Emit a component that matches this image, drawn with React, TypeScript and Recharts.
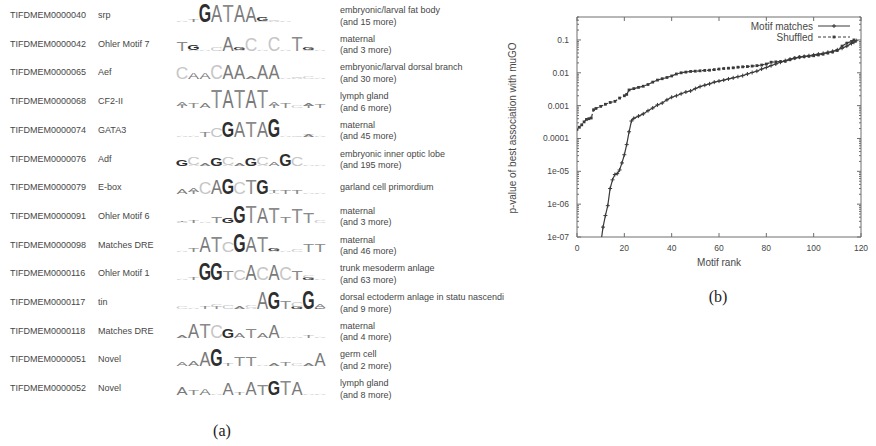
import React from "react";
import {
  BarChart,
  Bar,
  XAxis,
  YAxis,
  LineChart,
  Line,
  ReferenceArea,
} from "recharts";

// ---- panel (a): motif table ----
const MOTIF_IDS = [
  "TIFDMEM0000040", "TIFDMEM0000042", "TIFDMEM0000065", "TIFDMEM0000068",
  "TIFDMEM0000074", "TIFDMEM0000076", "TIFDMEM0000079", "TIFDMEM0000091",
  "TIFDMEM0000098", "TIFDMEM0000116", "TIFDMEM0000117", "TIFDMEM0000118",
  "TIFDMEM0000051", "TIFDMEM0000052",
];

const MOTIF_NAMES = [
  "srp", "Ohler Motif 7", "Aef", "CF2-II", "GATA3", "Adf", "E-box",
  "Ohler Motif 6", "Matches DRE", "Ohler Motif 1", "tin", "Matches DRE",
  "Novel", "Novel",
];

const GO_TERMS = [
  "embryonic/larval fat body", "maternal", "embryonic/larval dorsal branch",
  "lymph gland", "maternal", "embryonic inner optic lobe",
  "garland cell primordium", "maternal", "maternal", "trunk mesoderm anlage",
  "dorsal ectoderm anlage in statu nascendi", "maternal", "germ cell",
  "lymph gland",
];

const MORE_COUNTS: (number | null)[] = [15, 3, 30, 6, 45, 195, null, 3, 46, 63, 9, 4, 2, 8];

// one entry per logo column: letters bottom-to-top with height in bits
const LOGOS: string[][] = [
  ["A0.1", "T0.25", "G1.8", "A1.7", "T1.7", "A1.7", "A1.55", "C0.15/G0.35", "A0.1/C0.1", "A0.05", "A0.04", "A0.04", "A0.04"],
  ["T0.9", "A0.1/G0.55", "A0.12", "C0.45", "A1.45", "A0.1/G0.25", "C1.35", "A0.1", "C1.4", "A0.1", "T1.5", "C0.15/G0.3", "A0.12"],
  ["C1.2", "A0.7", "A0.7", "C1.4", "A1.45", "A1.45", "A0.2", "A1.45", "A1.45", "A0.15", "A0.1/C0.1", "C0.25", "A0.06"],
  ["T0.25/A0.4", "T0.55", "A0.55", "T1.8", "A1.8", "T1.8", "A1.8", "T1.8", "T0.25/A0.35", "T0.5", "C0.3", "T0.2/A0.2", "T0.45"],
  ["A0.1", "A0.1", "T0.5", "C0.9", "G1.55", "A1.6", "T1.6", "A1.6", "G1.85", "A0.15", "C0.15", "A0.2/T0.1", "A0.1"],
  ["G0.6", "A0.12/C0.8", "A0.3", "G0.75", "A0.12/C0.85", "A0.3", "G0.8", "A0.12/C0.85", "A0.35", "G1.2", "C0.9", "A0.05", "A0.05"],
  ["A0.55", "T0.2/A0.45", "C1.2", "A1.4", "G1.6", "C1.2", "T1.5", "G1.5", "A0.1/T0.25", "T0.4", "T0.4", "A0.05", "A0.05"],
  ["A0.1/T0.1", "T0.3", "A0.1", "T0.6", "G0.55", "G1.75", "T1.75", "A1.6", "T1.6", "T0.7", "T1.45", "T1.1", "C0.2"],
  ["A0.1", "T0.45", "A1.6", "T1.6", "C1.1", "G1.8", "A1.6", "T1.55", "A0.15/G0.2", "A0.15", "C0.2", "T0.75", "T0.75"],
  ["A0.1", "T0.25", "G1.75", "G1.75", "T0.9", "C1.0", "A1.6", "C1.3", "A1.6", "C1.3", "T0.95", "G0.2/C0.2", "A0.05"],
  ["C0.3", "A0.15", "T0.2", "T0.2/C0.2", "C0.35", "A0.2", "A0.15/C0.2", "A1.7", "G1.7", "T0.8", "G0.2/C0.5", "G1.8", "G0.1/A0.35"],
  ["A0.2", "A1.4", "T1.4", "C1.3", "G0.9", "A0.55", "T0.95", "A0.5", "A1.3", "A0.08", "A0.1", "T0.3", "A0.1"],
  ["A0.35", "A0.5", "A1.45", "G1.7", "T0.25", "T0.9", "T0.9", "A0.15", "A0.2", "T0.4", "C0.25", "A0.3", "A1.35"],
  ["A0.75", "T0.5", "A0.7", "A0.1", "A1.25", "T0.3", "A1.3", "T1.0", "G1.5", "T1.5", "A1.35", "A0.05", "A0.05"],
];

// ---- panel (b): p-value by motif rank ----
const MOTIF_MATCHES: [number, number][] = [
  [10, 6e-8], [11, 2e-7], [12, 4.5e-7], [13, 9e-7], [14, 3e-6], [15, 5.5e-6],
  [16, 8e-6], [17, 8.5e-6], [18, 1.1e-5], [19, 1.8e-5], [20, 3.2e-5], [21, 6.5e-5],
  [22, 1.6e-4], [23, 3.4e-4], [24, 4.1e-4], [26, 4.8e-4], [28, 5.6e-4], [30, 7e-4],
  [32, 8.5e-4], [34, 1.05e-3], [36, 1.2e-3], [38, 1.5e-3], [40, 1.8e-3], [42, 2e-3],
  [44, 2.3e-3], [46, 2.6e-3], [48, 2.8e-3], [50, 3.3e-3], [52, 3.8e-3], [54, 4.2e-3],
  [56, 4.6e-3], [58, 5.2e-3], [60, 5.6e-3], [62, 6e-3], [64, 6.5e-3], [66, 7e-3],
  [68, 7.6e-3], [70, 8.2e-3], [72, 9.2e-3], [74, 1.02e-2], [76, 1.12e-2], [78, 1.3e-2],
  [80, 1.45e-2], [82, 1.65e-2], [84, 1.85e-2], [86, 2.1e-2], [88, 2.35e-2], [90, 2.6e-2],
  [92, 2.8e-2], [94, 3e-2], [96, 3.15e-2], [98, 3.3e-2], [100, 3.5e-2], [102, 3.7e-2],
  [104, 3.9e-2], [106, 4.2e-2], [108, 4.5e-2], [110, 5e-2], [112, 5.6e-2], [114, 6.5e-2],
  [116, 7.8e-2], [117, 8.5e-2], [118, 9.5e-2],
];

const SHUFFLED: [number, number][] = [
  [0, 1.9e-4], [1, 2.2e-4], [2, 2.6e-4], [3, 3.2e-4], [4, 3.8e-4], [5, 4e-4],
  [6, 4.2e-4], [7, 7.5e-4], [8, 8.2e-4], [10, 9.5e-4], [12, 1.1e-3], [14, 1.25e-3],
  [16, 1.35e-3], [18, 1.7e-3], [20, 2e-3], [21, 2.2e-3], [22, 3e-3], [24, 3.3e-3],
  [26, 3.6e-3], [28, 3.9e-3], [30, 4.4e-3], [32, 5.2e-3], [34, 6e-3], [36, 6.6e-3],
  [38, 7.2e-3], [40, 8e-3], [42, 9.2e-3], [44, 1e-2], [46, 1.05e-2], [48, 1.1e-2],
  [50, 1.12e-2], [52, 1.15e-2], [54, 1.18e-2], [56, 1.2e-2], [58, 1.25e-2], [60, 1.3e-2],
  [62, 1.35e-2], [64, 1.38e-2], [66, 1.42e-2], [68, 1.48e-2], [70, 1.52e-2], [72, 1.55e-2],
  [74, 1.6e-2], [76, 1.65e-2], [78, 1.72e-2], [80, 1.85e-2], [82, 2.1e-2], [84, 2.15e-2],
  [86, 2.2e-2], [88, 2.25e-2], [90, 2.5e-2], [92, 2.8e-2], [94, 3e-2], [96, 3.1e-2],
  [98, 3.2e-2], [100, 3.3e-2], [102, 3.5e-2], [104, 3.7e-2], [106, 4e-2], [108, 4.3e-2],
  [110, 4.8e-2], [112, 6.5e-2], [114, 8e-2], [116, 9e-2], [117, 0.1],
];

const RANK_TICKS = [0, 20, 40, 60, 80, 100, 120];
const DECADES = [1e-7, 1e-6, 1e-5, 1e-4, 1e-3, 1e-2, 1e-1];
const DECADE_LABELS = ["1e-07", "1e-06", "1e-05", "0.0001", "0.001", "0.01", "0.1"];
const P_MAX = 0.5;

const SANS = "'Liberation Sans', Arial, Helvetica, sans-serif";
const SERIF = "'Liberation Serif', 'Times New Roman', serif";
const TEXT_GREY = "#474747";
const AXIS_GREY = "#6e6e6e";
const LINE_GREY = "#3a3a3a";

const ROW_TOP = 15;
const ROW_H = 28.7;
const POS_W = 11.5;

const LETTER_FILL: Record<string, string> = {
  A: "#7a7a7a",
  C: "#c6c6c6",
  G: "#2e2e2e",
  T: "#8a8a8a",
};
// approximate ink width of each glyph at 10px
const LETTER_INK: Record<string, number> = { A: 6.5, C: 6.2, G: 6.8, T: 5.9 };

function logoData(cols: string[]) {
  return cols.map((col, i) => {
    const row: Record<string, number | string> = { pos: i };
    col.split("/").forEach((part, k) => {
      row[`c${k}`] = part[0];
      row[`h${k}`] = parseFloat(part.slice(1));
    });
    return row;
  });
}

function Glyph(props: any) {
  const { x, y, width, height, payload, slot } = props;
  const ch = payload ? payload[`c${slot}`] : undefined;
  if (!ch || !(height > 0.3)) return null;
  const sx = (width * 0.9) / LETTER_INK[ch];
  const sy = height / 7.2;
  return (
    <text
      transform={`translate(${x + width / 2},${y + height}) scale(${sx},${sy})`}
      textAnchor="middle"
      fontSize={10}
      fontWeight={ch === "G" ? "bold" : "normal"}
      fontFamily={SANS}
      fill={LETTER_FILL[ch]}
    >
      {ch}
    </text>
  );
}

function Logo({ cols }: { cols: string[] }) {
  const data = logoData(cols);
  return (
    <BarChart
      width={cols.length * POS_W}
      height={21}
      data={data}
      margin={{ top: 1, right: 0, bottom: 0, left: 0 }}
      barCategoryGap={0}
      barGap={0}
      style={{ overflow: "visible" }}
    >
      <XAxis dataKey="pos" hide />
      <YAxis hide domain={[0, 2]} allowDataOverflow />
      {[0, 1, 2].map((k) => (
        <Bar
          key={k}
          dataKey={`h${k}`}
          stackId="logo"
          isAnimationActive={false}
          shape={(p: any) => <Glyph {...p} slot={k} />}
        />
      ))}
    </BarChart>
  );
}

// plot box inside the line chart
const PLOT_LEFT = 77;
const PLOT_RIGHT = 361;
const PLOT_TOP = 17;
const PLOT_BOTTOM = 237;

const LOG_TICKS: number[] = [];
DECADES.forEach((d) => {
  LOG_TICKS.push(d);
  for (let m = 2; m <= 9; m++) {
    if (d * m <= P_MAX + 1e-12) LOG_TICKS.push(d * m);
  }
});

function PTick(props: any) {
  const { y, payload } = props;
  const major = DECADES.indexOf(payload.value);
  const len = major >= 0 ? 4 : 2;
  return (
    <g>
      <line x1={PLOT_LEFT} x2={PLOT_LEFT + len} y1={y} y2={y} stroke={AXIS_GREY} />
      <line x1={PLOT_RIGHT - len} x2={PLOT_RIGHT} y1={y} y2={y} stroke={AXIS_GREY} />
      {major >= 0 && (
        <text
          x={PLOT_LEFT - 8}
          y={y}
          dy={3}
          textAnchor="end"
          fontSize={8.5}
          fontFamily={SANS}
          fill={TEXT_GREY}
        >
          {DECADE_LABELS[major]}
        </text>
      )}
    </g>
  );
}

function RankTick(props: any) {
  const { x, payload } = props;
  return (
    <g>
      <line x1={x} x2={x} y1={PLOT_BOTTOM} y2={PLOT_BOTTOM - 4} stroke={AXIS_GREY} />
      <line x1={x} x2={x} y1={PLOT_TOP} y2={PLOT_TOP + 4} stroke={AXIS_GREY} />
      <text
        x={x}
        y={PLOT_BOTTOM + 14}
        textAnchor="middle"
        fontSize={8.5}
        fontFamily={SANS}
        fill={TEXT_GREY}
      >
        {payload.value}
      </text>
    </g>
  );
}

function PlusDot(props: any) {
  const { cx, cy } = props;
  if (cx == null || cy == null || cy > PLOT_BOTTOM + 0.5) return null;
  return (
    <path
      d={`M${cx - 2},${cy}H${cx + 2}M${cx},${cy - 2}V${cy + 2}`}
      stroke={LINE_GREY}
      strokeWidth={1}
      fill="none"
    />
  );
}

function SquareDot(props: any) {
  const { cx, cy } = props;
  if (cx == null || cy == null || cy > PLOT_BOTTOM + 0.5) return null;
  return <rect x={cx - 1.4} y={cy - 1.4} width={2.8} height={2.8} fill={LINE_GREY} />;
}

const matchData = MOTIF_MATCHES.map(([rank, p]) => ({ rank, p }));
const shuffledData = SHUFFLED.map(([rank, p]) => ({ rank, p }));

function RankChart() {
  return (
    <LineChart
      width={376}
      height={280}
      margin={{ top: PLOT_TOP, right: 15, bottom: 13, left: 17 }}
    >
      <XAxis
        type="number"
        dataKey="rank"
        domain={[0, 120]}
        ticks={RANK_TICKS}
        interval={0}
        allowDataOverflow
        axisLine={false}
        tickLine={false}
        tick={<RankTick />}
        height={30}
      />
      <YAxis
        type="number"
        scale="log"
        domain={[DECADES[0], P_MAX]}
        ticks={LOG_TICKS}
        interval={0}
        allowDataOverflow
        axisLine={false}
        tickLine={false}
        tick={<PTick />}
        width={60}
      />
      <ReferenceArea
        x1={0}
        x2={120}
        y1={DECADES[0]}
        y2={P_MAX}
        fill="none"
        fillOpacity={0}
        stroke={AXIS_GREY}
        strokeWidth={1}
      />
      <Line
        name="Shuffled"
        data={shuffledData}
        dataKey="p"
        stroke={LINE_GREY}
        strokeWidth={1.2}
        strokeDasharray="3 2"
        dot={<SquareDot />}
        activeDot={false}
        isAnimationActive={false}
      />
      <Line
        name="Motif matches"
        data={matchData}
        dataKey="p"
        stroke={LINE_GREY}
        strokeWidth={1.2}
        dot={<PlusDot />}
        activeDot={false}
        isAnimationActive={false}
      />
    </LineChart>
  );
}

function RankLegend() {
  const rows = [
    { label: "Motif matches", dash: undefined, y: 26, Dot: PlusDot },
    { label: "Shuffled", dash: "3 2", y: 37, Dot: SquareDot },
  ];
  return (
    <svg
      width={376}
      height={50}
      style={{ position: "absolute", left: 500, top: 0, pointerEvents: "none" }}
    >
      {rows.map(({ label, dash, y, Dot }) => (
        <g key={label}>
          <text
            x={313}
            y={y + 3.5}
            textAnchor="end"
            fontSize={10}
            fontFamily={SANS}
            fill={TEXT_GREY}
          >
            {label}
          </text>
          <line x1={318} x2={350} y1={y} y2={y} stroke={LINE_GREY} strokeDasharray={dash} />
          <Dot cx={334} cy={y} />
        </g>
      ))}
    </svg>
  );
}

const cellText: React.CSSProperties = {
  position: "absolute",
  fontSize: 9,
  lineHeight: "12px",
  height: 12,
  whiteSpace: "nowrap",
  color: TEXT_GREY,
};

export default function App() {
  return (
    <div
      style={{
        position: "absolute",
        left: 0,
        top: 0,
        width: 876,
        height: 446,
        background: "#ffffff",
        fontFamily: SANS,
        overflow: "hidden",
      }}
    >
      {MOTIF_IDS.map((id, i) => {
        const cy = ROW_TOP + i * ROW_H;
        const more = MORE_COUNTS[i];
        return (
          <React.Fragment key={i}>
            <div style={{ ...cellText, left: 10, top: cy - 6 }}>{id}</div>
            <div style={{ ...cellText, left: 98, top: cy - 6 }}>{MOTIF_NAMES[i]}</div>
            <div style={{ position: "absolute", left: 176, top: cy - 14 }}>
              <Logo cols={LOGOS[i]} />
            </div>
            {more == null ? (
              <div style={{ ...cellText, left: 340, top: cy - 6 }}>{GO_TERMS[i]}</div>
            ) : (
              <>
                <div style={{ ...cellText, left: 340, top: cy - 11 }}>{GO_TERMS[i]}</div>
                <div style={{ ...cellText, left: 340, top: cy + 0.5 }}>
                  {`(and ${more} more)`}
                </div>
              </>
            )}
          </React.Fragment>
        );
      })}
      <div
        style={{
          position: "absolute",
          left: 200,
          top: 421,
          width: 44,
          textAlign: "center",
          fontFamily: SERIF,
          fontSize: 16,
          lineHeight: "20px",
          color: "#222",
        }}
      >
        (a)
      </div>

      <div style={{ position: "absolute", left: 500, top: 0 }}>
        <RankChart />
      </div>
      <RankLegend />
      <div
        style={{
          position: "absolute",
          left: 513 - 100,
          top: 128 - 7,
          width: 200,
          height: 14,
          lineHeight: "14px",
          textAlign: "center",
          fontSize: 10,
          color: TEXT_GREY,
          whiteSpace: "nowrap",
          transform: "rotate(-90deg)",
        }}
      >
        p-value of best association with muGO
      </div>
      <div
        style={{
          position: "absolute",
          left: 669,
          top: 256,
          width: 100,
          textAlign: "center",
          fontSize: 10,
          lineHeight: "14px",
          color: TEXT_GREY,
        }}
      >
        Motif rank
      </div>
      <div
        style={{
          position: "absolute",
          left: 696,
          top: 287,
          width: 44,
          textAlign: "center",
          fontFamily: SERIF,
          fontSize: 16,
          lineHeight: "20px",
          color: "#222",
        }}
      >
        (b)
      </div>
    </div>
  );
}
